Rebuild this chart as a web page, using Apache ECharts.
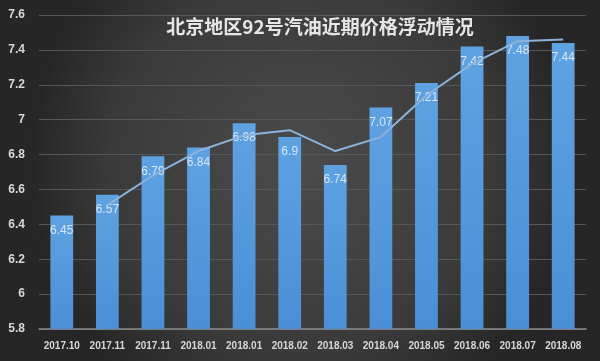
<!DOCTYPE html>
<html><head><meta charset="utf-8">
<style>html,body{margin:0;padding:0;background:#333;}#c{width:600px;height:361px;}</style>
<script src="https://cdn.jsdelivr.net/npm/echarts@6/dist/echarts.min.js"></script>
</head><body><div id="c"></div>
<script>
const categories = ['2017.10','2017.11','2017.11','2018.01','2018.01','2018.02','2018.03','2018.04','2018.05','2018.06','2018.07','2018.08'];
const prices = [6.45, 6.57, 6.79, 6.84, 6.98, 6.9, 6.74, 7.07, 7.21, 7.42, 7.48, 7.44];
const trend = [null, 6.51, 6.68, 6.82, 6.91, 6.94, 6.82, 6.9, 7.14, 7.32, 7.45, 7.46];
const yTicks = [5.8, 6, 6.2, 6.4, 6.6, 6.8, 7, 7.2, 7.4, 7.6];

const chart = echarts.init(document.getElementById('c'));
chart.setOption({
  backgroundColor: {
    type: 'radial', x: 0.5, y: 0.45, r: 0.75,
    colorStops: [{offset: 0, color: '#4b4b4b'}, {offset: 0.7, color: '#3a3a3a'}, {offset: 1, color: '#262626'}]
  },
  animation: false,
  title: {
    text: '北京地区92号汽油近期价格浮动情况',
    left: 315, top: 12, textAlign: 'center',
    textStyle: {color: '#e6e6e6', fontSize: 19, fontWeight: 'bold', fontFamily: 'Noto Sans CJK SC'}
  },
  grid: {left: 39, right: 14, top: 15, bottom: 32, containLabel: false},
  xAxis: {
    type: 'category', data: categories,
    axisLine: {lineStyle: {color: '#8a8a8a', width: 1.5}},
    axisTick: {show: false},
    axisLabel: {color: '#d8d8d8', fontSize: 10, fontWeight: 'bold', margin: 12, interval: 0, fontFamily: 'Liberation Sans'}
  },
  yAxis: {
    type: 'value', min: 5.8, max: 7.6, interval: 0.2,
    axisLine: {show: false}, axisTick: {show: false},
    splitLine: {lineStyle: {color: '#575757', width: 1}},
    axisLabel: {
      color: '#d8d8d8', fontSize: 12, fontWeight: 'bold', margin: 14, fontFamily: 'Liberation Sans',
      formatter: v => { const t = yTicks.find(x => Math.abs(x - v) < 1e-6); return t === undefined ? '' : String(t); }
    }
  },
  series: [{
    type: 'bar', data: prices, barWidth: '50%',
    itemStyle: {
      color: {type: 'linear', x: 0, y: 0, x2: 0, y2: 1,
        colorStops: [{offset: 0, color: '#5fa2e2'}, {offset: 1, color: '#4a8fd6'}]}
    },
    label: {show: true, position: 'insideTop', distance: 9, color: '#d6e6f8', fontSize: 12, fontFamily: 'Liberation Sans'}
  }, {
    type: 'line', data: trend, symbol: 'none', smooth: false,
    lineStyle: {color: '#8db3dc', width: 2}, z: 5
  }]
});
</script></body></html>
